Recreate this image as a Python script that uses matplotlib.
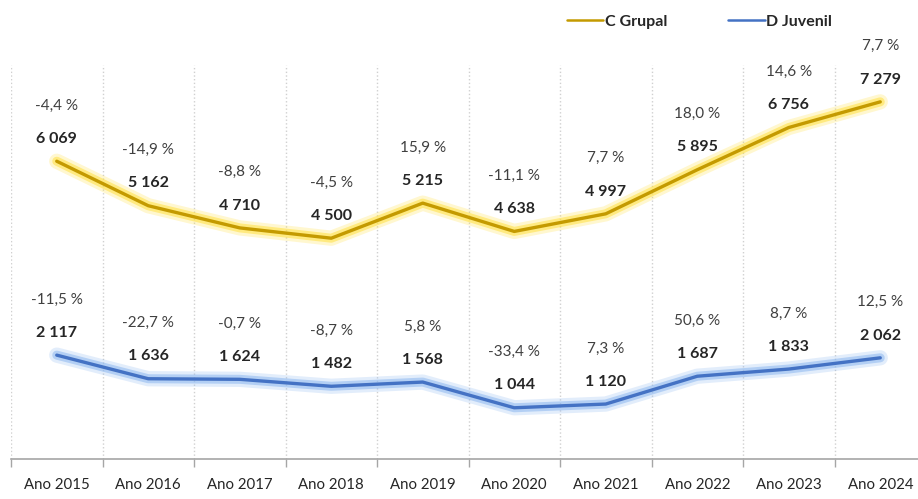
import matplotlib
matplotlib.use('Agg')
import matplotlib.pyplot as plt
import matplotlib.patheffects as pe
import numpy as np

# data
anos = ['Ano 2015', 'Ano 2016', 'Ano 2017', 'Ano 2018', 'Ano 2019',
        'Ano 2020', 'Ano 2021', 'Ano 2022', 'Ano 2023', 'Ano 2024']
c_grupal = [6069, 5162, 4710, 4500, 5215, 4638, 4997, 5895, 6756, 7279]
d_juvenil = [2117, 1636, 1624, 1482, 1568, 1044, 1120, 1687, 1833, 2062]
var_c = [-4.4, -14.9, -8.8, -4.5, 15.9, -11.1, 7.7, 18.0, 14.6, 7.7]
var_d = [-11.5, -22.7, -0.7, -8.7, 5.8, -33.4, 7.3, 50.6, 8.7, 12.5]

plt.rcParams['font.family'] = ['Lato', 'DejaVu Sans']

fig = plt.figure(figsize=(9.18, 4.99), dpi=100)
ax = fig.add_axes([11/918, 40/499, 915/918, 394/499])

x = np.arange(len(anos))

def glow_line(y, col, glow, lab):
    ax.plot(x, y, color=col, lw=2.4, label=lab, solid_capstyle='round',
            path_effects=[pe.Stroke(linewidth=11, foreground=glow, alpha=0.25),
                          pe.Stroke(linewidth=6.5, foreground=glow, alpha=0.55),
                          pe.Normal()])

glow_line(c_grupal, '#C49A00', '#FFE040', 'C Grupal')
glow_line(d_juvenil, '#4472C4', '#8DB8F0', 'D Juvenil')

for serie, var in [(c_grupal, var_c), (d_juvenil, var_d)]:
    for i, (v, p) in enumerate(zip(serie, var)):
        ax.annotate(f'{v:,}'.replace(',', ' '), (i, v), xytext=(0, 11),
                    textcoords='offset points', ha='center', va='bottom',
                    fontsize=11.5, fontweight='bold', color='#262626')
        ax.annotate(f'{p:.1f} %'.replace('.', ','), (i, v), xytext=(0, 35),
                    textcoords='offset points', ha='center', va='bottom',
                    fontsize=11, color='#404040')

ax.set_xlim(-0.5, 9.5)
ax.set_ylim(0, 8030)
ax.set_xticks(x)
ax.set_xticklabels(anos, fontsize=10.8, color='#262626')
ax.set_xticks(np.arange(-0.5, 10, 1), minor=True)
ax.tick_params(axis='x', which='major', length=0, pad=14)
ax.tick_params(axis='x', which='minor', length=6, color='#A6A6A6', width=1)
ax.set_yticks([])
ax.grid(axis='x', which='minor', color='#D0D0D0', linestyle=':', lw=1)
for s in ['top', 'right', 'left']:
    ax.spines[s].set_visible(False)
ax.spines['bottom'].set_color('#A6A6A6')
ax.spines['bottom'].set_linewidth(1.2)

fig.legend(loc='center', bbox_to_anchor=(0.762, 0.956), ncol=2, frameon=False,
           handlelength=2.3, handletextpad=0.1, columnspacing=3.8,
           prop={'size': 11.5, 'weight': 'bold'})
for t in fig.legends[0].get_texts():
    t.set_color('#262626')
for h in fig.legends[0].get_lines():
    h.set_path_effects([])
    h.set_linewidth(1.8)

fig.savefig('out.png', dpi=100)
